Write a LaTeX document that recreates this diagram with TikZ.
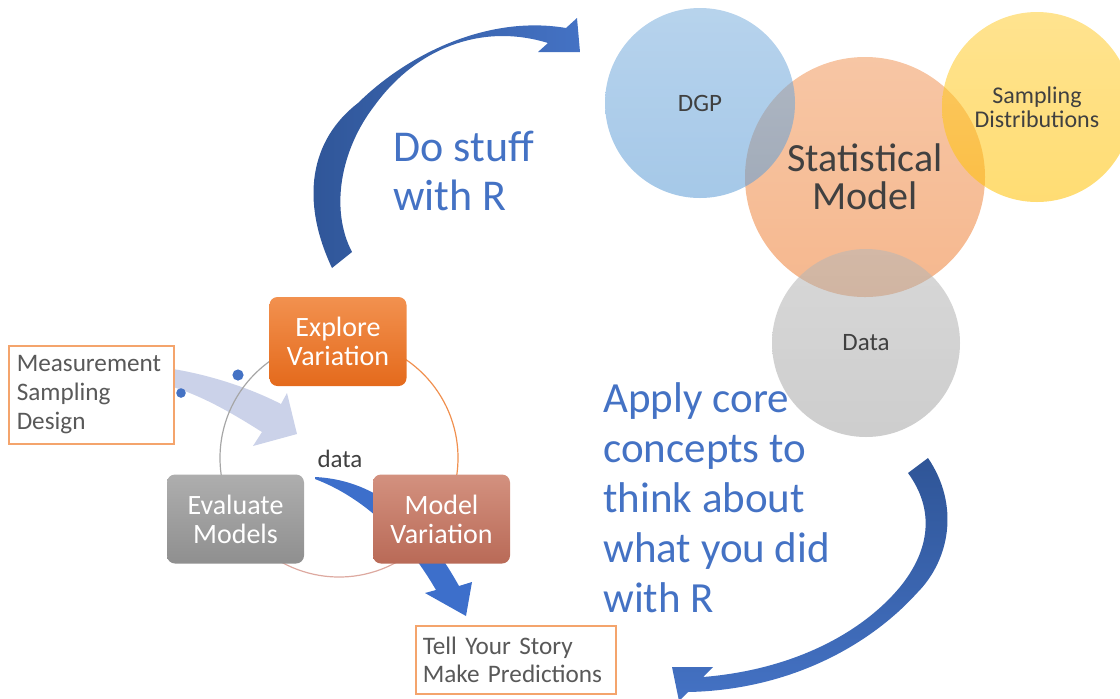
\documentclass[tikz,border=0pt]{standalone}
\usepackage{fontspec}
\setmainfont{Carlito}

\definecolor{accblue}{HTML}{4472C4}
\definecolor{accdark}{HTML}{2F5597}
\definecolor{arrowblue}{HTML}{3D6FCB}
\definecolor{fadeblue}{HTML}{CBD2E9}
\definecolor{vennblue}{HTML}{5B9BD5}
\definecolor{vennorange}{HTML}{ED7D31}
\definecolor{vennyellow}{HTML}{FFC000}
\definecolor{venngray}{HTML}{A5A5A5}
\definecolor{labelgray}{HTML}{404040}
\definecolor{notegray}{HTML}{595959}
\definecolor{noteline}{HTML}{F4A46C}
\definecolor{exploretop}{HTML}{F2914F}
\definecolor{explorebot}{HTML}{E46A1C}
\definecolor{modeltop}{HTML}{D3917F}
\definecolor{modelbot}{HTML}{B96A57}
\definecolor{evaltop}{HTML}{AEAEAE}
\definecolor{evalbot}{HTML}{8F8F8F}
\definecolor{arcgray}{HTML}{A6A6A6}
\definecolor{arcorange}{HTML}{F0904F}
\definecolor{arcsalmon}{HTML}{DDA9A0}

\tikzset{
  venn/.style={circle, inner sep=0pt, top color=#1!80, bottom color=#1,
    fill opacity=0.55, text opacity=1, text=labelgray, align=center},
  stepbox/.style={rounded corners=4pt, minimum width=68.5pt, minimum height=44.5pt,
    text=white, align=center, font=\fontsize{14}{14.5}\selectfont},
  notebox/.style={draw=noteline, fill=white, line width=0.75pt, align=left,
    text=notegray, anchor=north west, font=\fontsize{12.6}{14.5}\selectfont},
  bigtext/.style={text=accblue, align=left, inner sep=0pt, anchor=north west,
    font=\fontsize{22}{24.5}\selectfont}
}

\begin{document}
\begin{tikzpicture}[x=0.5pt, y=-0.5pt]
	\useasboundingbox (0,0) rectangle (1120,698);

	% core concepts
	\node[venn=vennorange, minimum size=120pt, font=\fontsize{20}{19}\selectfont] (model) at (865,177) {Statistical\\Model};
	\node[venn=vennblue, minimum size=95pt, font=\fontsize{12.5}{13}\selectfont] (dgp) at (700,103) {DGP};
	\node[venn=vennyellow, minimum size=95pt, font=\fontsize{12}{12}\selectfont] (sampling) at (1037,107) {Sampling\\Distributions};
	\node[venn=venngray, minimum size=94pt, font=\fontsize{12.5}{13}\selectfont] (data) at (866,343) {Data};

	\node[bigtext] (dostuff) at (393,131) {Do stuff\\with R};
	\node[bigtext, font=\fontsize{21.5}{25}\selectfont] (apply) at (603,382) {Apply core\\concepts to\\think about\\what you did\\with R};

	% curved block arrows
	\shade[left color=accdark, right color=accblue] (332,268) .. controls (300,200) and (310,140) .. (358,103)
		.. controls (410,52) and (490,15) .. (566,28) -- (577,18) -- (580,52) -- (538,52) -- (548,43)
		.. controls (480,22) and (415,50) .. (375,105) .. controls (340,150) and (330,210) .. (352,252) -- cycle;
	\shade[top color=accdark, bottom color=accblue] (928,458) .. controls (960,505) and (950,560) .. (917,593)
		.. controls (870,645) and (790,690) .. (688,692) -- (679,701) -- (672,667) -- (713,667) -- (703,677)
		.. controls (790,670) and (860,635) .. (900,587) .. controls (930,550) and (935,510) .. (908,473) -- cycle;

	% modelling cycle
	\fill[fadeblue] (173,369) .. controls (210,375) and (250,388) .. (281,404) -- (287,393) -- (297,434) -- (253,446) -- (262,432)
		.. controls (235,415) and (205,397) .. (173,387) -- cycle;
	\coordinate (hub) at (339,458);
	\draw[arcgray, line width=0.6pt] (hub) ++(90:59.5pt) arc[start angle=90, end angle=210, radius=59.5pt];
	\draw[arcorange, line width=0.6pt] (hub) ++(90:59.5pt) arc[start angle=90, end angle=-30, radius=59.5pt];
	\draw[arcsalmon, line width=0.6pt] (hub) ++(210:59.5pt) arc[start angle=210, end angle=330, radius=59.5pt];
	\node[text=labelgray, font=\fontsize{12.5}{13}\selectfont] (datalabel) at (340,459) {data};
	\fill[arrowblue] (315,477) .. controls (380,480) and (425,525) .. (459,586) -- (472,582) -- (466,616) -- (425,593) -- (436,590)
		.. controls (410,545) and (370,500) .. (315,479) -- cycle;

	\node[stepbox, top color=exploretop, bottom color=explorebot] (explore) at (338,341.5) {Explore\\Variation};
	\node[stepbox, top color=modeltop, bottom color=modelbot] (modelvar) at (441.5,519) {Model\\Variation};
	\node[stepbox, top color=evaltop, bottom color=evalbot] (evaluate) at (235.5,519) {Evaluate\\Models};

	\node[notebox, text width=74.5pt, inner sep=4pt, minimum height=49pt] (design) at (8,345) {Measurement\\Sampling\\Design};
	\node[notebox, text width=93pt, inner sep=3.5pt, minimum height=34pt, font=\fontsize{12.6}{14}\selectfont] (story) at (415,625) {Tell Your Story\\Make Predictions};

	\fill[accblue] (238,375) circle (2.8pt);
	\fill[accblue] (181,393) circle (2.4pt);
\end{tikzpicture}
\end{document}
